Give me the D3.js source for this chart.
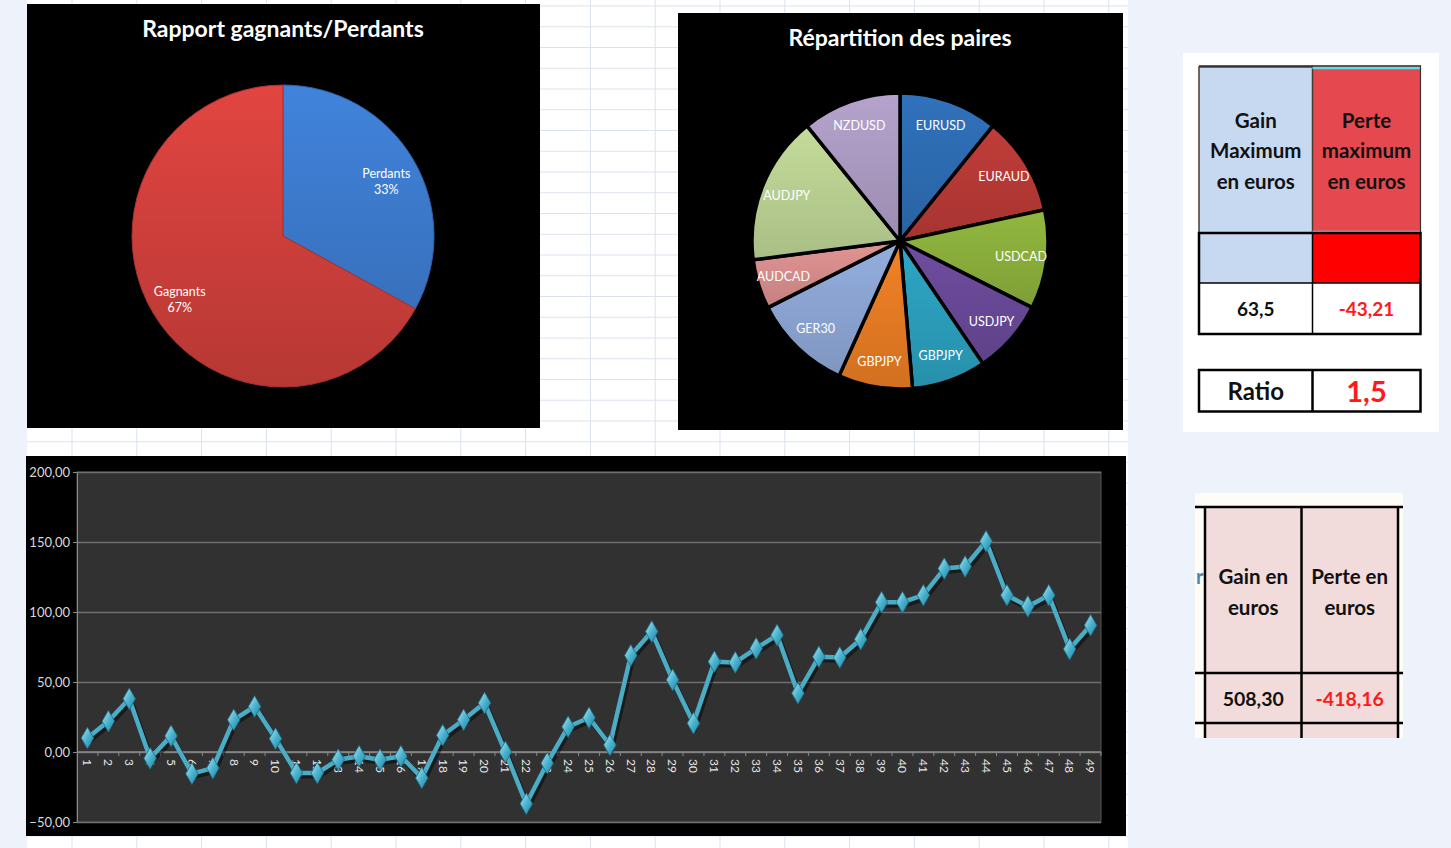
<!DOCTYPE html>
<html>
<head>
<meta charset="utf-8">
<script src="https://cdn.jsdelivr.net/npm/d3@7"></script>
<style>
  body { margin: 0; background: #eef3fb; }
  svg { display: block; font-family: Lato, "Open Sans", sans-serif; }
</style>
</head>
<body>
<svg id="chart" width="1451" height="848"></svg>
<script>
// ---- data ----
var trades = [1,2,3,4,5,6,7,8,9,10,11,12,13,14,15,16,17,18,19,20,21,22,23,24,25,
              26,27,28,29,30,31,32,33,34,35,36,37,38,39,40,41,42,43,44,45,46,47,48,49];
var cumul = [10, 22, 38, -4.5, 11.5, -15.5, -11.5, 23, 32.5, 9.5, -15, -15, -5.5, -3, -5.5,
             -3, -18.5, 12, 23, 35, 0, -37, -8, 18, 24.5, 5, 69, 86, 51.5, 20.5, 64.5, 64,
             74, 83.5, 42, 68, 67.5, 80.5, 107, 107, 112, 131, 132.5, 150.5, 112, 104, 112,
             73.5, 90.5];
var yTicks = [-50, 0, 50, 100, 150, 200];

var resultLabels = ["Perdants", "Gagnants"];
var resultShares = [33, 67];
var resultColors = ["#3b78c9", "#cf3f3b"];

var pairLabels = ["EURUSD", "EURAUD", "USDCAD", "USDJPY", "GBPJPY", "GBPJPY", "GER30", "AUDCAD", "AUDJPY", "NZDUSD"];
var pairCounts = [4, 4, 4, 3, 3, 3, 4, 2, 6, 4];
var pairColors = ["#2e6db4", "#b93a37", "#8cb03c", "#6a4a99", "#2ba0be", "#e97d24", "#8da7d6", "#d98f8d", "#bcd394", "#ad9cc4"];

var maxHeads = [["Gain", "Maximum", "en euros"], ["Perte", "maximum", "en euros"]];
var maxValues = ["63,5", "-43,21"];
var ratioCells = ["Ratio", "1,5"];
var totalHeads = [["Gain en", "euros"], ["Perte en", "euros"]];
var totalValues = ["508,30", "-418,16"];

var fr = d3.formatLocale({decimal: ",", thousands: " ", grouping: [3], currency: ["", " €"]});
var fmt = fr.format(".2f");

var svg = d3.select("#chart");
var defs = svg.append("defs");

// ---- spreadsheet background ----
svg.append("rect").attr("x", 27).attr("y", 0).attr("width", 1101).attr("height", 848).attr("fill", "#fff");
var sheet = svg.append("g").attr("stroke", "#dbe2ee").attr("stroke-width", 1);
d3.range(72, 1128, 64.8).forEach(function(gx) {
  sheet.append("line").attr("x1", gx).attr("x2", gx).attr("y1", 0).attr("y2", 848);
});
d3.range(6, 848, 20.75).forEach(function(gy) {
  sheet.append("line").attr("x1", 27).attr("x2", 1128).attr("y1", gy).attr("y2", gy);
});

// ---- pie 1 : gagnants / perdants ----
svg.append("rect").attr("x", 27).attr("y", 4).attr("width", 513).attr("height", 424).attr("fill", "#000");
svg.append("text").attr("x", 283).attr("y", 37).attr("text-anchor", "middle")
  .attr("fill", "#fff").attr("font-weight", "bold").attr("font-size", 23)
  .text("Rapport gagnants/Perdants");

var r1 = 151;
resultColors.forEach(function(c, i) {
  var gr = defs.append("linearGradient").attr("id", "res" + i)
    .attr("gradientUnits", "userSpaceOnUse").attr("x1", 0).attr("y1", -r1).attr("x2", 0).attr("y2", r1);
  gr.append("stop").attr("offset", 0).attr("stop-color", d3.color(c).brighter(0.25));
  gr.append("stop").attr("offset", 1).attr("stop-color", d3.color(c).darker(0.35));
});
var pie1 = d3.pie().sort(null).value(function(d) { return d; })(resultShares);
var arc1 = d3.arc().innerRadius(0).outerRadius(r1);
var lab1 = d3.arc().innerRadius(120).outerRadius(120);
var g1 = svg.append("g").attr("transform", "translate(283,236)");
g1.selectAll("path").data(pie1).join("path")
  .attr("d", arc1)
  .attr("fill", function(d, i) { return "url(#res" + i + ")"; })
  .attr("stroke", function(d, i) { return d3.color(resultColors[i]).darker(0.6); })
  .attr("stroke-width", 1);
g1.selectAll("text").data(pie1).join("text")
  .attr("transform", function(d) { return "translate(" + lab1.centroid(d) + ")"; })
  .attr("text-anchor", "middle").attr("fill", "#fff").attr("font-size", 12.5)
  .each(function(d, i) {
    var t = d3.select(this);
    t.append("tspan").attr("x", 0).attr("dy", i === 0 ? "0.25em" : "-0.1em").text(resultLabels[i]);
    t.append("tspan").attr("x", 0).attr("dy", "1.3em")
      .text(Math.round(100 * d.value / d3.sum(resultShares)) + "%");
  });

// ---- pie 2 : répartition des paires ----
svg.append("rect").attr("x", 678).attr("y", 13).attr("width", 445).attr("height", 417).attr("fill", "#000");
svg.append("text").attr("x", 900).attr("y", 46).attr("text-anchor", "middle")
  .attr("fill", "#fff").attr("font-weight", "bold").attr("font-size", 23)
  .text("Répartition des paires");

var r2 = 148;
pairColors.forEach(function(c, i) {
  var gr = defs.append("linearGradient").attr("id", "pair" + i)
    .attr("x1", 0).attr("y1", 0).attr("x2", 0).attr("y2", 1);
  gr.append("stop").attr("offset", 0).attr("stop-color", d3.color(c).brighter(0.12));
  gr.append("stop").attr("offset", 1).attr("stop-color", d3.color(c).darker(0.3));
});
var pie2 = d3.pie().sort(null).value(function(d) { return d; })(pairCounts);
var arc2 = d3.arc().innerRadius(0).outerRadius(r2);
var lab2 = d3.arc().innerRadius(122).outerRadius(122);
var g2 = svg.append("g").attr("transform", "translate(900,241)");
g2.selectAll("path").data(pie2).join("path")
  .attr("d", arc2)
  .attr("fill", function(d, i) { return "url(#pair" + i + ")"; })
  .attr("stroke", "#000").attr("stroke-width", 3.5).attr("stroke-linejoin", "round");
g2.selectAll("text").data(pie2).join("text")
  .attr("transform", function(d) { return "translate(" + lab2.centroid(d) + ")"; })
  .attr("text-anchor", "middle").attr("dy", "0.35em")
  .attr("fill", "#fff").attr("font-size", 12.5)
  .text(function(d, i) { return pairLabels[i]; });

// ---- line chart : cumul ----
svg.append("rect").attr("x", 26).attr("y", 456).attr("width", 1100).attr("height", 380).attr("fill", "#000");
var x = d3.scaleBand().domain(trades).range([77, 1101]);
var y = d3.scaleLinear().domain([-50, 200]).range([822, 472]);

svg.append("rect").attr("x", 77).attr("y", 472).attr("width", 1024).attr("height", 350)
  .attr("fill", "#313131").attr("stroke", "#555").attr("stroke-width", 1);

svg.append("g").attr("transform", "translate(77,0)")
  .call(d3.axisLeft(y).tickValues(yTicks).tickSize(-1024).tickFormat(""))
  .call(function(g) {
    g.select(".domain").remove();
    g.selectAll("line").attr("stroke", "#6f6f6f").attr("stroke-width", 1.3);
  });

svg.append("g").attr("transform", "translate(77,0)")
  .call(d3.axisLeft(y).tickValues(yTicks).tickSize(4).tickPadding(3).tickFormat(fmt))
  .call(function(g) {
    g.select(".domain").attr("stroke", "#8a8a8a");
    g.selectAll("line").attr("stroke", "#8a8a8a");
    g.selectAll("text").attr("fill", "#d9d9d9").attr("font-size", 13).attr("font-family", "Lato, sans-serif");
  });

var xAxis = svg.append("g").attr("transform", "translate(0," + y(0) + ")");
xAxis.append("line").attr("x1", 77).attr("x2", 1101).attr("stroke", "#8a8a8a").attr("stroke-width", 1.3);
xAxis.selectAll("line.tk").data(trades).join("line").attr("class", "tk")
  .attr("x1", function(d) { return x(d) + x.bandwidth(); })
  .attr("x2", function(d) { return x(d) + x.bandwidth(); })
  .attr("y1", 0).attr("y2", 4).attr("stroke", "#8a8a8a");
xAxis.selectAll("text").data(trades).join("text")
  .attr("transform", function(d) { return "translate(" + (x(d) + x.bandwidth() / 2) + ",7) rotate(90)"; })
  .attr("dy", "0.35em").attr("fill", "#e6e6e6").attr("font-size", 12)
  .text(function(d) { return d; });

var pts = trades.map(function(t, i) { return {t: t, v: cumul[i]}; });
var line = d3.line()
  .x(function(d) { return x(d.t) + x.bandwidth() / 2; })
  .y(function(d) { return y(d.v); });

svg.append("path").datum(pts).attr("d", line)
  .attr("fill", "none").attr("stroke", "#000").attr("stroke-opacity", 0.45)
  .attr("stroke-width", 5).attr("transform", "translate(2,3)");
svg.append("path").datum(pts).attr("d", line)
  .attr("fill", "none").attr("stroke", "#4bacc6").attr("stroke-width", 4.5)
  .attr("stroke-linejoin", "round");

var dg = defs.append("linearGradient").attr("id", "diam")
  .attr("x1", 0).attr("y1", 0).attr("x2", 1).attr("y2", 1);
dg.append("stop").attr("offset", 0).attr("stop-color", "#b3e8f5");
dg.append("stop").attr("offset", 0.5).attr("stop-color", "#4bb3cf");
dg.append("stop").attr("offset", 1).attr("stop-color", "#22809c");
var diamond = d3.symbol().type(d3.symbolDiamond).size(135);
svg.append("g").selectAll("path").data(pts).join("path")
  .attr("transform", function(d) { return "translate(" + (x(d.t) + x.bandwidth() / 2) + "," + y(d.v) + ")"; })
  .attr("d", diamond)
  .attr("fill", "url(#diam)").attr("stroke", "#1d6d84").attr("stroke-width", 0.8);

// ---- table : gain / perte maximum ----
var t1 = svg.append("g");
t1.append("rect").attr("x", 1183).attr("y", 53).attr("width", 256).attr("height", 379).attr("fill", "#fff");
var cx1 = [1199, 1312.5, 1420.5];
t1.append("rect").attr("x", cx1[0]).attr("y", 67).attr("width", cx1[1] - cx1[0]).attr("height", 166).attr("fill", "#c6d9f1");
t1.append("rect").attr("x", cx1[1]).attr("y", 67).attr("width", cx1[2] - cx1[1]).attr("height", 166).attr("fill", "#e5484f");
t1.append("rect").attr("x", cx1[0]).attr("y", 233).attr("width", cx1[1] - cx1[0]).attr("height", 50).attr("fill", "#c6d9f1");
t1.append("rect").attr("x", cx1[1]).attr("y", 233).attr("width", cx1[2] - cx1[1]).attr("height", 50).attr("fill", "#ff0000");
// header borders
t1.append("rect").attr("x", cx1[0]).attr("y", 67).attr("width", cx1[1] - cx1[0]).attr("height", 166)
  .attr("fill", "none").attr("stroke", "#4a3b30").attr("stroke-width", 1.5);
t1.append("line").attr("x1", cx1[1]).attr("x2", cx1[2]).attr("y1", 68).attr("y2", 68).attr("stroke", "#5fdde6").attr("stroke-width", 2.5);
t1.append("line").attr("x1", cx1[1]).attr("x2", cx1[2]).attr("y1", 232).attr("y2", 232).attr("stroke", "#5fdde6").attr("stroke-width", 2.5);
t1.append("line").attr("x1", 1199).attr("x2", 1421).attr("y1", 66).attr("y2", 66).attr("stroke", "#222").attr("stroke-width", 1.5);
t1.append("line").attr("x1", cx1[2]).attr("x2", cx1[2]).attr("y1", 66).attr("y2", 233).attr("stroke", "#333").attr("stroke-width", 1.2);
// body borders
t1.append("rect").attr("x", cx1[0]).attr("y", 233).attr("width", cx1[2] - cx1[0]).attr("height", 101)
  .attr("fill", "none").attr("stroke", "#000").attr("stroke-width", 2.5);
t1.append("line").attr("x1", cx1[1]).attr("x2", cx1[1]).attr("y1", 233).attr("y2", 334).attr("stroke", "#000").attr("stroke-width", 1.5);
t1.append("line").attr("x1", cx1[0]).attr("x2", cx1[2]).attr("y1", 283).attr("y2", 283).attr("stroke", "#000").attr("stroke-width", 1.5);

maxHeads.forEach(function(lines, c) {
  var mid = (cx1[c] + cx1[c + 1]) / 2;
  lines.forEach(function(s, k) {
    t1.append("text").attr("x", mid).attr("y", 120.5 + k * 30.5).attr("dy", "0.35em")
      .attr("text-anchor", "middle").attr("font-weight", "bold").attr("font-size", 20.5)
      .attr("fill", "#111").text(s);
  });
  t1.append("text").attr("x", mid).attr("y", 309).attr("dy", "0.35em")
    .attr("text-anchor", "middle").attr("font-weight", "bold").attr("font-size", 19)
    .attr("fill", c === 0 ? "#111" : "#ff1a1a").text(maxValues[c]);
});

t1.append("rect").attr("x", cx1[0]).attr("y", 370).attr("width", cx1[2] - cx1[0]).attr("height", 41.5)
  .attr("fill", "#fff").attr("stroke", "#000").attr("stroke-width", 2.5);
t1.append("line").attr("x1", cx1[1]).attr("x2", cx1[1]).attr("y1", 370).attr("y2", 411.5).attr("stroke", "#000").attr("stroke-width", 2.5);
ratioCells.forEach(function(s, c) {
  t1.append("text").attr("x", (cx1[c] + cx1[c + 1]) / 2).attr("y", 392).attr("dy", "0.35em")
    .attr("text-anchor", "middle").attr("font-weight", "bold")
    .attr("font-size", c === 0 ? 24 : 29)
    .attr("fill", c === 0 ? "#111" : "#ff1a1a").text(s);
});

// ---- table : gain / perte en euros ----
var t2 = svg.append("g");
t2.append("rect").attr("x", 1195).attr("y", 493).attr("width", 208).attr("height", 245).attr("fill", "#fdfdf6");
var cx2 = [1205, 1301.5, 1398];
t2.append("rect").attr("x", cx2[0]).attr("y", 507).attr("width", cx2[2] - cx2[0]).attr("height", 231).attr("fill", "#f2dcdb");
t2.append("text").attr("x", 1196).attr("y", 577).attr("dy", "0.35em").attr("font-size", 20)
  .attr("font-weight", "bold").attr("fill", "#4b86b8").text("r");
[507, 673, 723].forEach(function(hy) {
  t2.append("line").attr("x1", 1195).attr("x2", 1403).attr("y1", hy).attr("y2", hy).attr("stroke", "#000").attr("stroke-width", 2.5);
});
cx2.forEach(function(vx) {
  t2.append("line").attr("x1", vx).attr("x2", vx).attr("y1", 507).attr("y2", 738).attr("stroke", "#000").attr("stroke-width", 2.5);
});
totalHeads.forEach(function(lines, c) {
  var mid = (cx2[c] + cx2[c + 1]) / 2;
  lines.forEach(function(s, k) {
    t2.append("text").attr("x", mid).attr("y", 577 + k * 30.5).attr("dy", "0.35em")
      .attr("text-anchor", "middle").attr("font-weight", "bold").attr("font-size", 20.5)
      .attr("fill", "#111").text(s);
  });
  t2.append("text").attr("x", mid).attr("y", 699).attr("dy", "0.35em")
    .attr("text-anchor", "middle").attr("font-weight", "bold").attr("font-size", 19.5)
    .attr("fill", c === 0 ? "#111" : "#ff1a1a").text(totalValues[c]);
});
</script>
</body>
</html>
